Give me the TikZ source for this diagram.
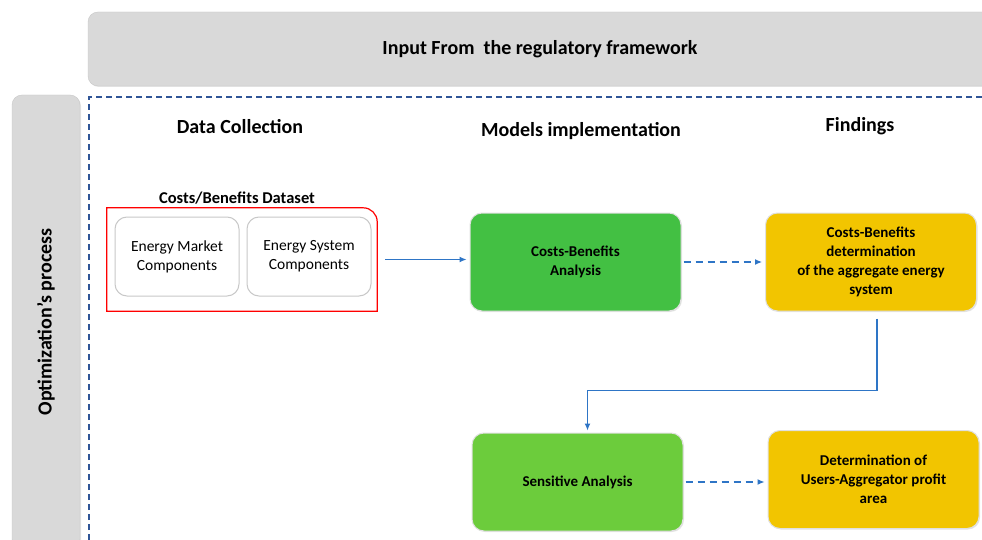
\documentclass[tikz,border=0pt]{standalone}
\usepackage{fontspec}
\setmainfont{Carlito}
\usetikzlibrary{arrows.meta, positioning, shadows}
\definecolor{PanelGrey}{HTML}{D9D9D9}
\definecolor{FrameBlue}{HTML}{2F5597}
\definecolor{FlowBlue}{HTML}{2E75C6}
\definecolor{ModelGreen}{HTML}{43C043}
\definecolor{SensGreen}{HTML}{6CCC3C}
\definecolor{FindYellow}{HTML}{F2C500}
\definecolor{CompGrey}{HTML}{C8C8C8}
\tikzset{
  % Box styles
  panelbox/.style={rectangle, rounded corners=10pt, draw=PanelGrey!92!black, fill=PanelGrey, font=\bfseries\fontsize{20}{24}\selectfont, drop shadow={shadow xshift=1pt, shadow yshift=-1pt, opacity=0.2}},
  headlabel/.style={font=\bfseries\fontsize{20}{24}\selectfont},
  compbox/.style={rectangle, rounded corners=12pt, draw=CompGrey, line width=1pt, fill=white, minimum width=124pt, minimum height=79pt, align=center, font=\fontsize{15.5}{19}\selectfont},
  modelbox/.style={rectangle, rounded corners=12pt, draw=black!12, line width=1pt, fill=ModelGreen, minimum width=211pt, minimum height=98pt, align=center, font=\bfseries\fontsize{15}{19}\selectfont, drop shadow={shadow xshift=1pt, shadow yshift=-1pt, opacity=0.2}},
  findbox/.style={modelbox, fill=FindYellow},
  setframe/.style={draw=red, line width=1.2pt},
  % Arrow styles
  arrow/.style={-{Latex[length=7pt,width=6pt]}, FlowBlue, line width=1.2pt},
  dashedarrow/.style={arrow, dash pattern=on 7pt off 5pt}
}
\begin{document}
\begin{tikzpicture}[x=1pt, y=-1pt]
  \clip (0,0) rectangle (982,540);
  \fill[white] (0,0) rectangle (982,540);

  % Panels
  \node[panelbox, minimum width=904pt, minimum height=74pt] (input) at (540,49) {Input From\ \ the regulatory framework};
  \node[panelbox, rotate=90, minimum width=454pt, minimum height=68pt] (optim) at (46,322) {Optimization’s process};
  \draw[FrameBlue, line width=1.2pt, dash pattern=on 6pt off 4pt] (89,560) -- (89,97) -- (1000,97);

  % Column headings
  \node[headlabel] (collect) at (240,127) {Data Collection};
  \node[headlabel] (models) at (581,131) {Models implementation};
  \node[headlabel] (findings) at (860,126) {Findings};

  % Data collection
  \node[minimum width=270pt, minimum height=103pt] (dataset) at (242,259.5) {};
  \draw[setframe] (dataset.south west) -- (dataset.north west) [rounded corners=14pt] -- (dataset.north east) [sharp corners] -- (dataset.south east) -- cycle;
  \node[font=\bfseries\fontsize{16.5}{19}\selectfont, above=0pt of dataset, xshift=-5pt] (datalabel) {Costs/Benefits Dataset};
  \node[compbox] (market) at (177,256.5) {Energy Market\\Components};
  \node[compbox, right=7pt of market] (system) {Energy System\\Components};

  % Models and findings
  \node[modelbox] (cba) at (575.5,262) {Costs-Benefits\\Analysis};
  \node[findbox] (aggregate) at (871,262) {Costs-Benefits\\determination\\of the aggregate energy\\system};
  \node[modelbox, fill=SensGreen] (sens) at (577.5,482) {Sensitive Analysis};
  \node[findbox] (profit) at (873.5,479.5) {Determination\ of\\Users-Aggregator profit\\area};

  \draw[arrow, shorten <=8pt, shorten >=3pt] (dataset.east) -- (dataset.east -| cba.west);
  \draw[dashedarrow, shorten <=2pt, shorten >=3pt] (cba) -- (aggregate);
  \draw[arrow, shorten <=7pt, shorten >=2pt] ([xshift=6pt]aggregate.south) -- ++(0,79) -| ([xshift=10pt]sens.north);
  \draw[dashedarrow, shorten <=2pt, shorten >=3pt] (sens.east) -- (sens.east -| profit.west);
\end{tikzpicture}
\end{document}
